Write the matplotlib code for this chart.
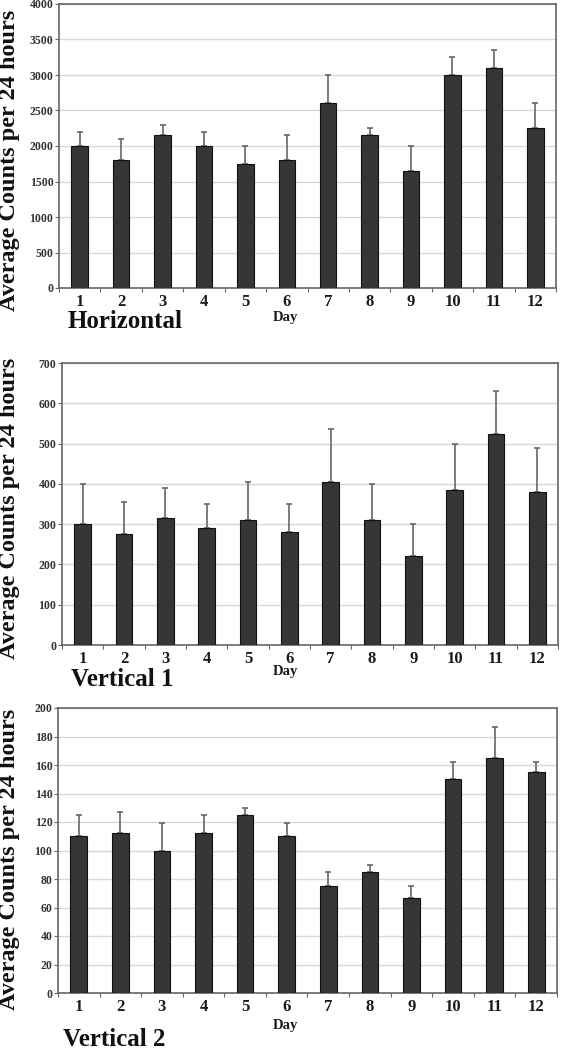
import numpy as np
import matplotlib
matplotlib.use('Agg')
import matplotlib.pyplot as plt

days = list(range(1, 13))

horizontal = [2000, 1800, 2150, 2000, 1750, 1800, 2600, 2150, 1650, 3000, 3100, 2250]
horizontal_err = [200, 300, 150, 200, 250, 350, 400, 100, 350, 250, 250, 350]

vertical1 = [300, 275, 315, 290, 310, 280, 405, 310, 220, 385, 525, 380]
vertical1_err = [100, 80, 75, 60, 95, 70, 130, 90, 80, 115, 105, 110]

vertical2 = [110, 112, 100, 112, 125, 110, 75, 85, 67, 150, 165, 155]
vertical2_err = [15, 15, 19, 13, 5, 9, 10, 5, 8, 12, 22, 7]

panels = [
    ('Horizontal', horizontal, horizontal_err, 4000, 500),
    ('Vertical 1', vertical1, vertical1_err, 700, 100),
    ('Vertical 2', vertical2, vertical2_err, 200, 20),
]

W, H = 567, 1050
fig = plt.figure(figsize=(W / 100, H / 100), dpi=100)
serif = ['Liberation Serif', 'DejaVu Serif']

# pixel boxes: left, right, top, bottom
boxes = [(59, 556, 4, 288), (62, 558, 363, 645), (58, 557, 708, 993)]
ylabel_y = [160, 508, 859]
name_pos = [(68, 322), (71, 680), (63, 1040)]
day_y = [317, 672, 1025]

for (name, vals, errs, ymax, step), (l, r, t, b), yl, (nx, ny), dy in zip(
        panels, boxes, ylabel_y, name_pos, day_y):
    ax = fig.add_axes([l / W, 1 - b / H, (r - l) / W, (b - t) / H])
    ax.bar(days, vals, width=0.4, color='#363636', edgecolor='#111111',
           linewidth=0.8, zorder=3)
    ax.errorbar(days, vals, yerr=[np.zeros(len(errs)), errs], fmt='none',
                ecolor='#666666', elinewidth=1.2, capsize=2.5, capthick=1.2,
                zorder=2)
    ax.set_xlim(0.5, 12.5)
    ax.set_ylim(0, ymax)
    ax.set_yticks(np.arange(0, ymax + 1, step))
    ax.yaxis.grid(True, color='#d8d8d8', linewidth=1.0, zorder=0)
    ax.set_axisbelow(True)
    for s in ax.spines.values():
        s.set_color('#666666')
        s.set_linewidth(1.2)
    ax.set_xticks(np.arange(0.5, 13, 1))
    ax.set_xticklabels([])
    ax.set_xticks(days, minor=True)
    ax.set_xticklabels([str(d) for d in days], minor=True,
                       fontfamily=serif, fontweight='bold', fontsize=12,
                       color='#1a1a1a')
    ax.tick_params(axis='x', which='major', length=3, color='#666666')
    ax.tick_params(axis='x', which='minor', length=0, pad=4)
    ax.tick_params(axis='y', length=3, color='#666666', pad=1)
    for lab in ax.get_yticklabels():
        lab.set_fontfamily(serif)
        lab.set_fontweight('bold')
        lab.set_fontsize(8.5)
        lab.set_color('#333333')

    fig.text(285 / W, 1 - dy / H, 'Day', ha='center', va='center',
             fontfamily=serif, fontweight='bold', fontsize=10.5, color='#1a1a1a')
    fig.text(nx / W, 1 - ny / H, name, ha='left', va='center',
             fontfamily=serif, fontweight='bold', fontsize=18, color='#111111')
    fig.text(10 / W, 1 - yl / H, 'Average Counts per 24 hours', rotation=90,
             ha='center', va='center', fontfamily=serif, fontweight='bold',
             fontsize=17.5, color='#111111')

fig.savefig('out.png', dpi=100)
